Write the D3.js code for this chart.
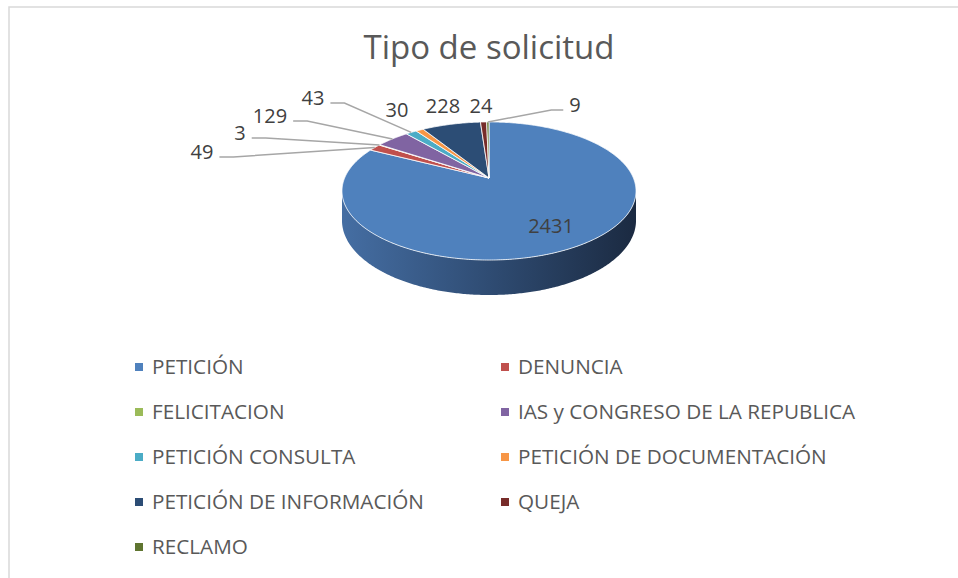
<!DOCTYPE html>
<html>
<head>
<meta charset="utf-8">
<script src="https://cdn.jsdelivr.net/npm/d3@7"></script>
<style>
  body { margin: 0; background: #fff; }
  svg { display: block; font-family: "Open Sans", sans-serif; }
</style>
</head>
<body>
<svg width="958" height="578"></svg>
<script>
// chart data
var categories = ["PETICIÓN", "DENUNCIA", "FELICITACION", "IAS y CONGRESO DE LA REPUBLICA",
    "PETICIÓN CONSULTA", "PETICIÓN DE DOCUMENTACIÓN", "PETICIÓN DE INFORMACIÓN", "QUEJA", "RECLAMO"];
var values = [2431, 49, 3, 129, 43, 30, 228, 24, 9];
var palette = ["#4f81bd", "#c0504d", "#9bbb59", "#8064a2", "#4bacc6", "#f79646", "#2c4d75", "#772c2a", "#5f7530"];

// where Excel put each data label (baseline), and whether it has a leader line
var labelLayout = [
    { x: 551, y: 233, line: false },
    { x: 202, y: 159, line: true },
    { x: 240, y: 140, line: true },
    { x: 270, y: 123, line: true },
    { x: 313, y: 105, line: true },
    { x: 397, y: 117, line: false },
    { x: 443, y: 113, line: false },
    { x: 481, y: 113, line: false },
    { x: 575, y: 112, line: true }
];

var svg = d3.select("svg"),
    width = +svg.attr("width"),
    height = +svg.attr("height");

var data = categories.map(function (c, i) { return { name: c, value: values[i] }; });

var color = d3.scaleOrdinal().domain(categories).range(palette);

// 3d pie projection (tilted disc seen in perspective)
var cx = 489, cy = 178, A = 144.4, B = 66.6, k = 0.188, depth = 35;

function proj(theta, r, drop) {
    var den = 1 + k * r * Math.cos(theta);
    return [cx + A * r * Math.sin(theta) / den,
            cy - B * r * Math.cos(theta) / den + drop * (1 - k) / den];
}

function arcPts(a0, a1, r, drop) {
    var n = Math.max(2, Math.ceil(Math.abs(a1 - a0) / 0.01));
    return d3.range(n + 1).map(function (i) { return proj(a0 + (a1 - a0) * i / n, r, drop); });
}

var line = d3.line();

var pie = d3.pie().sort(null).value(function (d) { return d.value; });
var arcs = pie(data);

// frame
svg.append("rect")
    .attr("x", 9).attr("y", 7)
    .attr("width", width).attr("height", height)
    .attr("fill", "none")
    .attr("stroke", "#d9d9d9")
    .attr("stroke-width", 1.5);

// title
svg.append("text")
    .attr("x", 489).attr("y", 59)
    .attr("text-anchor", "middle")
    .attr("font-size", "33px")
    .attr("fill", "#595959")
    .text("Tipo de solicitud");

// side gradient
var grad = svg.append("defs").append("linearGradient")
    .attr("id", "side").attr("x1", "0%").attr("x2", "100%").attr("y1", "0%").attr("y2", "0%");
grad.append("stop").attr("offset", "0%").attr("stop-color", "#456ea3");
grad.append("stop").attr("offset", "50%").attr("stop-color", "#2f4c73");
grad.append("stop").attr("offset", "100%").attr("stop-color", "#1b2a41");

// side of the pie (only the big slice faces the viewer)
var t1 = Math.acos(-k), t2 = 2 * Math.PI - Math.acos(-k);
var sidePts = arcPts(t1, t2, 1, 0).concat(arcPts(t2, t1, 1, depth));
svg.append("path")
    .attr("d", line(sidePts) + "Z")
    .attr("fill", "url(#side)");

// top faces
svg.append("g").selectAll("path")
    .data(arcs)
    .enter().append("path")
    .attr("d", function (d) {
        return line([proj(0, 0, 0)].concat(arcPts(d.startAngle, d.endAngle, 1, 0))) + "Z";
    })
    .attr("fill", function (d) { return color(d.data.name); })
    .attr("stroke", "#fff")
    .attr("stroke-width", 0.8)
    .attr("stroke-linejoin", "round");

// data labels
var labels = svg.append("g");
arcs.forEach(function (d, i) {
    var lay = labelLayout[i];
    var mid = (d.startAngle + d.endAngle) / 2;
    var t = labels.append("text")
        .attr("x", lay.x).attr("y", lay.y)
        .attr("text-anchor", "middle")
        .attr("font-size", "20px")
        .attr("fill", "#404040")
        .text(d.data.value);
    if (lay.line) {
        var w = t.node().getComputedTextLength();
        var anchor = proj(mid, 1, 0);
        var left = lay.x < anchor[0];
        var sx = left ? lay.x + w / 2 + 6 : lay.x - w / 2 - 6;
        var sy = lay.y - 2;
        var bx = left ? sx + 14 : sx - 12;
        labels.append("path")
            .attr("d", line([[sx, sy], [bx, sy], anchor]))
            .attr("fill", "none")
            .attr("stroke", "#a6a6a6")
            .attr("stroke-width", 1.5);
    }
});

// legend
var legend = svg.append("g").selectAll("g")
    .data(categories)
    .enter().append("g")
    .attr("transform", function (d, i) {
        return "translate(" + (139 + (i % 2) * 366) + "," + (367 + Math.floor(i / 2) * 45) + ")";
    });

legend.append("rect")
    .attr("x", -4).attr("y", -4)
    .attr("width", 8).attr("height", 8)
    .attr("fill", function (d) { return color(d); });

legend.append("text")
    .attr("x", 13).attr("y", 7)
    .attr("font-size", "20.7px")
    .attr("fill", "#595959")
    .text(function (d) { return d; });
</script>
</body>
</html>
